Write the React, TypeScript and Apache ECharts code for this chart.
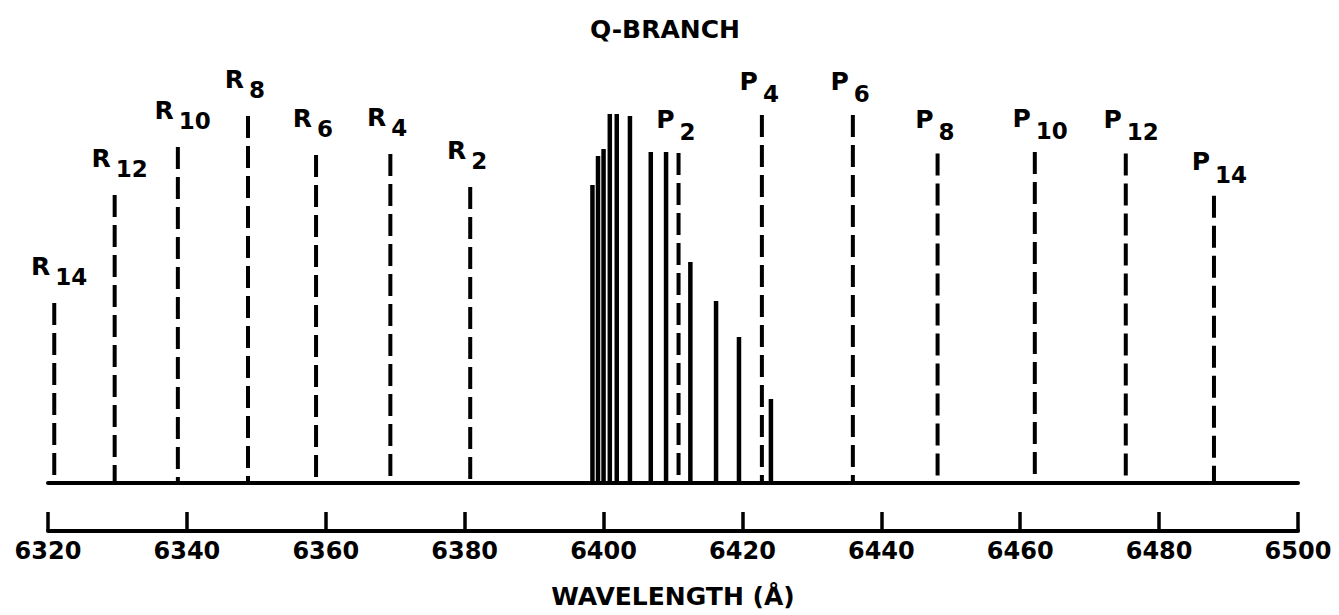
import React, { useEffect, useRef } from "react";
import * as echarts from "echarts";

// R-branch (dashed) lines: wavelength (Å) and relative intensity
const rWavelengths = [6320.9, 6329.6, 6338.7, 6348.8, 6358.6, 6369.3, 6380.8];
const rIntensity = [45, 72, 84, 91.75, 82, 82.25, 74];
const rLabels = ["14", "12", "10", "8", "6", "4", "2"];

// P-branch (dashed) lines
const pWavelengths = [6410.8, 6422.8, 6435.9, 6448.1, 6462.1, 6475.2, 6487.9];
const pIntensity = [82.5, 92, 92, 82.4, 82.75, 82.4, 71.8];
const pLabels = ["2", "4", "6", "8", "10", "12", "14"];

// Q-branch (solid) lines
const qWavelengths = [6398.4, 6399.2, 6400.0, 6400.9, 6401.9, 6403.8, 6406.8, 6409.0, 6412.5, 6416.2, 6419.5, 6424.1];
const qIntensity = [74.5, 81.75, 83.5, 92.25, 92.25, 91.75, 82.75, 82.75, 55.25, 45.5, 36.5, 21];

const axisMin = 6320;
const axisMax = 6500;
const axisStep = 20;

const FONT = "DejaVu Sans";

function makeSeries(name: string, ws: number[], vs: number[], letter: string | null, subs: string[] | null, dashed: boolean, letterOff: number, subOff: number) {
  return {
    type: "custom",
    name,
    xAxisIndex: 0,
    yAxisIndex: 0,
    clip: false,
    data: ws.map((w, i) => [w, vs[i]]),
    renderItem: (params: any, api: any) => {
      const x = api.value(0);
      const v = api.value(1);
      const base = api.coord([x, 0]);
      const top = api.coord([x, v]);
      const children: any[] = [
        {
          type: "line",
          shape: { x1: top[0], y1: top[1], x2: base[0], y2: base[1] },
          style: { stroke: "#000", lineWidth: dashed ? 4 : 4.5, lineDash: dashed ? [22, 8] : null, lineCap: "butt" },
        },
      ];
      if (letter && subs) {
        children.push({
          type: "text",
          x: top[0] - 4,
          y: top[1] - letterOff,
          style: { text: letter, fill: "#000", fontSize: 25, fontFamily: FONT, fontWeight: "bold", align: "right", verticalAlign: "middle" },
        });
        children.push({
          type: "text",
          x: top[0] + 1,
          y: top[1] - subOff,
          style: { text: subs[params.dataIndex], fill: "#000", fontSize: 23, fontFamily: FONT, fontWeight: "bold", align: "left", verticalAlign: "middle" },
        });
      }
      return { type: "group", children };
    },
  };
}

export default function App() {
  const ref = useRef<HTMLDivElement>(null);
  useEffect(() => {
    if (!ref.current) return;
    const chart = echarts.init(ref.current, null, { renderer: "svg" });
    chart.setOption({
      animation: false,
      backgroundColor: "#fff",
      textStyle: { fontFamily: FONT },
      grid: [
        { left: 48, right: 41, top: 83, height: 400 },
        { left: 48, right: 41, top: 512, height: 19 },
      ],
      xAxis: [
        {
          gridIndex: 0,
          type: "value",
          min: axisMin,
          max: axisMax,
          interval: axisStep,
          axisLine: { show: true, lineStyle: { color: "#000", width: 4 } },
          axisTick: { show: false },
          axisLabel: { show: false },
          splitLine: { show: false },
        },
        {
          gridIndex: 1,
          type: "value",
          min: axisMin,
          max: axisMax,
          interval: axisStep,
          axisLine: { show: true, lineStyle: { color: "#000", width: 4 } },
          axisTick: { show: true, inside: true, length: 19, lineStyle: { color: "#000", width: 3.5 } },
          axisLabel: {
            show: true,
            margin: 8,
            color: "#000",
            fontSize: 24,
            fontWeight: "bold",
            fontFamily: FONT,
            formatter: (v: number) => String(v),
          },
          splitLine: { show: false },
          name: "WAVELENGTH (Å)",
          nameLocation: "middle",
          nameGap: 53,
          nameTextStyle: { color: "#000", fontSize: 25, fontWeight: "bold", fontFamily: FONT },
        },
      ],
      yAxis: [
        { gridIndex: 0, type: "value", min: 0, max: 100, show: false },
        { gridIndex: 1, type: "value", min: 0, max: 1, show: false },
      ],
      graphic: [
        {
          type: "text",
          x: 665,
          y: 29,
          style: { text: "Q-BRANCH", fill: "#000", fontSize: 25, fontWeight: "bold", fontFamily: FONT, align: "center", verticalAlign: "middle" },
        },
      ],
      series: [
        makeSeries("R", rWavelengths, rIntensity, "R", rLabels, true, 37, 26),
        makeSeries("Q", qWavelengths, qIntensity, null, null, false, 0, 0),
        makeSeries("P", pWavelengths, pIntensity, "P", pLabels, true, 34, 21),
      ],
    });
    return () => chart.dispose();
  }, []);
  return <div ref={ref} style={{ position: "absolute", left: 0, top: 0, width: 1339, height: 615 }} />;
}
